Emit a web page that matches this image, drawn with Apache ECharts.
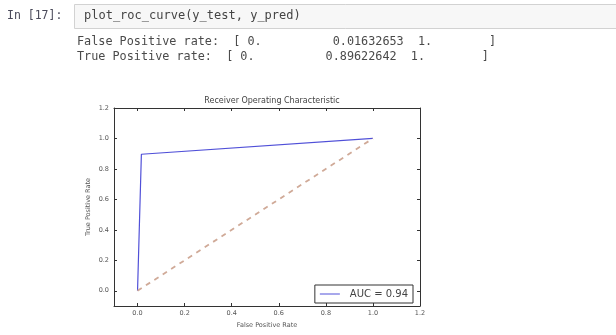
<!DOCTYPE html>
<html><head><meta charset="utf-8">
<script src="https://cdn.jsdelivr.net/npm/echarts@6/dist/echarts.min.js"></script>
<style>html,body{margin:0;padding:0;background:#fff}#c{width:616px;height:335px}</style>
</head><body><div id="c"></div>
<script>
const fpr = [0, 0.01632653, 1];
const tpr = [0, 0.89622642, 1];
const diagX = [0, 1];
const diagY = [0, 1];
const axisTicks = [-0.1, 0.0, 0.2, 0.4, 0.6, 0.8, 1.0, 1.2];
const aucLabel = 'AUC = 0.94';
const titleText = 'Receiver Operating Characteristic';
const xName = 'False Positive Rate';
const yName = 'True Positive Rate';
const promptText = 'In [17]:';
const codeText = 'plot_roc_curve(y_test, y_pred)';
const outLine1 = 'False Positive rate:  [ 0.          0.01632653  1.        ]';
const outLine2 = 'True Positive rate:  [ 0.          0.89622642  1.        ]';

const chart = echarts.init(document.getElementById('c'), null, {renderer: 'canvas'});
const tickFont = {fontFamily: 'DejaVu Sans', fontSize: 6.5, color: '#555'};
function fmt(v){ return (Math.abs(v - (-0.1)) < 1e-9) ? '' : v.toFixed(1); }
const baseAxis = {
  type: 'value', min: -0.1, max: 1.2, interval: 0.1,
  axisLine: {show: true, onZero: false, lineStyle: {color: '#333', width: 1}},
  axisTick: {show: true, inside: true, length: 3, lineStyle: {color: '#333'},
    customValues: axisTicks.slice(1)},
  splitLine: {show: false}
};
chart.setOption({
  animation: false,
  title: {text: titleText, left: 267, textAlign: 'center', top: 92,
    textStyle: {fontFamily: 'DejaVu Sans', fontSize: 8, fontWeight: 'normal', color: '#444'}},
  grid: {left: 114, top: 108, right: 196, bottom: 29, containLabel: false},
  xAxis: [
    Object.assign({}, baseAxis, {position: 'bottom',
      name: xName, nameLocation: 'middle', nameGap: 15,
      nameTextStyle: {fontFamily: 'DejaVu Sans', fontSize: 6.5, color: '#555'},
      axisLabel: Object.assign({}, tickFont, {margin: 4, customValues: axisTicks.slice(1), formatter: fmt})}),
    Object.assign({}, baseAxis, {position: 'top', axisLabel: {show: false}})
  ],
  yAxis: [
    Object.assign({}, baseAxis, {position: 'left',
      name: yName, nameLocation: 'middle', nameGap: 22, nameRotate: 90,
      nameTextStyle: {fontFamily: 'DejaVu Sans', fontSize: 6.5, color: '#555'},
      axisLabel: Object.assign({}, tickFont, {margin: 5, customValues: axisTicks.slice(1), formatter: fmt})}),
    Object.assign({}, baseAxis, {position: 'right', axisLabel: {show: false}})
  ],
  legend: {
    data: [aucLabel], right: 616 - 413, bottom: 335 - 303,
    orient: 'vertical', borderColor: '#333', borderWidth: 1, borderRadius: 0,
    padding: [4, 5, 4, 5], itemWidth: 20, itemHeight: 10, itemGap: 0,
    icon: 'path://M0,4.5L20,4.5L20,5.5L0,5.5Z',
    textStyle: {fontFamily: 'DejaVu Sans', fontSize: 10, color: '#444', padding: [0, 0, 0, 5]}
  },
  series: [
    {name: aucLabel, type: 'line', data: fpr.map((x, i) => [x, tpr[i]]),
      showSymbol: false, symbol: 'none', lineStyle: {color: '#5050d8', width: 1.2},
      itemStyle: {color: '#5050d8'}},
    {name: 'diag', type: 'line', data: diagX.map((x, i) => [x, diagY[i]]),
      showSymbol: false, symbol: 'none',
      lineStyle: {color: '#d0aa98', width: 1.8, type: [5, 5]}}
  ],
  graphic: [
    {type: 'text', left: 7, top: 10, style: {text: promptText, font: '11.5px "DejaVu Sans Mono"', fill: '#4a4a5a'}},
    {type: 'rect', shape: {x: 74.5, y: 4.5, width: 560, height: 24}, style: {fill: '#f7f7f7', stroke: '#d2d2d2', lineWidth: 1}},
    {type: 'text', left: 84, top: 10, style: {text: codeText, font: '12px "DejaVu Sans Mono"', fill: '#444'}},
    {type: 'text', left: 77, top: 36, style: {text: outLine1, font: '11.8px "DejaVu Sans Mono"', fill: '#4a4a4a'}},
    {type: 'text', left: 77, top: 51, style: {text: outLine2, font: '11.8px "DejaVu Sans Mono"', fill: '#4a4a4a'}}
  ]
});
</script></body></html>
